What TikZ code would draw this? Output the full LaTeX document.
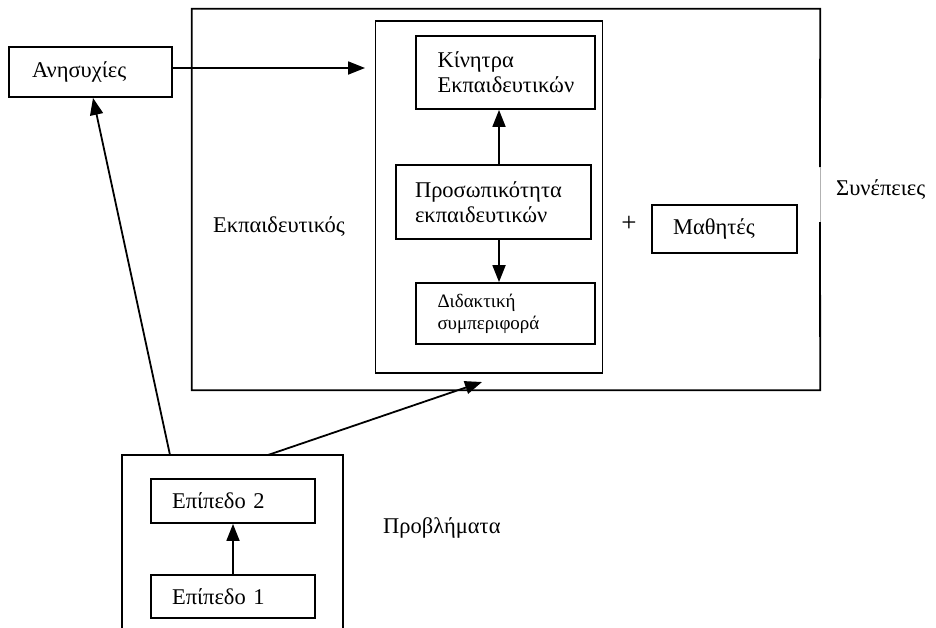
\documentclass[tikz,border=0pt]{standalone}
\usepackage{fontspec}
\setmainfont{Liberation Serif}
\usetikzlibrary{arrows.meta,calc}
\begin{document}
\begin{tikzpicture}[x=1pt,y=-1pt,
  box/.style={draw, line width=1.8pt, inner ysep=0pt, align=left,
    font=\fontsize{22.5}{25}\selectfont},
  smallbox/.style={box, font=\fontsize{19}{22}\selectfont},
  txt/.style={inner sep=0pt, font=\fontsize{22.5}{25}\selectfont},
  arr/.style={line width=1.8pt, -{Triangle[length=17pt,width=13pt]}},
  frame/.style={line width=1.8pt}]
\useasboundingbox (0,0) rectangle (936,627);
\clip (0,0) rectangle (936,627);
% outer teacher frame (with lighter segment on the right edge)
\node[minimum width=628pt, minimum height=381pt, inner sep=0pt] (big) at (506,199.5) {};
\coordinate (gapA) at (820,167);
\coordinate (gapB) at (820,222);
\draw[frame] (gapA) -- (big.north east) -- (big.north west) -- (big.south west) -- (big.south east) -- (gapB);
\draw[line width=0.5pt, gray!60] (gapA) -- (gapB);
% inner frame
\node[draw, line width=1.8pt, minimum width=227pt, minimum height=352pt, inner sep=0pt] (inner) at (489,197) {};
% boxes
\node[box, minimum height=73pt, inner xsep=21.5pt, text width=136pt] (kin) at (505.5,72.5) {Κίνητρα\\Εκπαιδευτικών};
\node[box, minimum height=74pt, inner xsep=19pt, text width=157pt] (pros) at (493.5,202) {Προσωπικότητα\\εκπαιδευτικών};
\node[smallbox, minimum height=61pt, inner xsep=21.5pt, text width=136pt] (did) at (505.5,313.5) {Διδακτική\\συμπεριφορά};
\node[box, minimum height=48pt, inner xsep=21pt, text width=103pt] (math) at (724.5,229) {Μαθητές};
\node[box, minimum height=50pt, inner xsep=23pt, text width=117pt] (anx) at (90.5,72) {Ανησυχίες};
\node[box, minimum height=44pt, inner xsep=21pt, text width=122pt] (ep2) at (233,501) {Επίπεδο 2};
\node[box, minimum height=43pt, inner xsep=21pt, text width=122pt] (ep1) at (233,596.5) {Επίπεδο 1};
\node[draw, line width=1.8pt, minimum width=221pt, minimum height=190pt, inner sep=0pt] (prob) at (232.5,550) {};
% free texts
\node[txt, anchor=west] (teach) at (213,227) {Εκπαιδευτικός};
\node[txt, anchor=west] (syn) at (836,190) {Συνέπειες};
\node[txt, anchor=west] (probl) at (383,528) {Προβλήματα};
\node[inner sep=0pt, font=\fontsize{27}{27}\selectfont] (plus) at (629,224) {+};
% arrows
\coordinate (ax) at (499,0);
\draw[arr] (pros.north -| ax) -- (kin.south -| ax);
\draw[arr] (pros.south -| ax) -- (did.north -| ax);
\draw[arr] (ep1.north) -- (ep2.south);
\coordinate (anxTip) at (365,68);
\draw[arr] (anx.east |- anxTip) -- (anxTip);
\coordinate (probA) at (170,455);
\draw[arr] (probA) -- ($(anx.south)+(2.5,0)$);
\coordinate (probB) at (268,455);
\coordinate (bigTip) at (482,382);
\draw[arr] (probB) -- (bigTip);
\end{tikzpicture}
\end{document}
